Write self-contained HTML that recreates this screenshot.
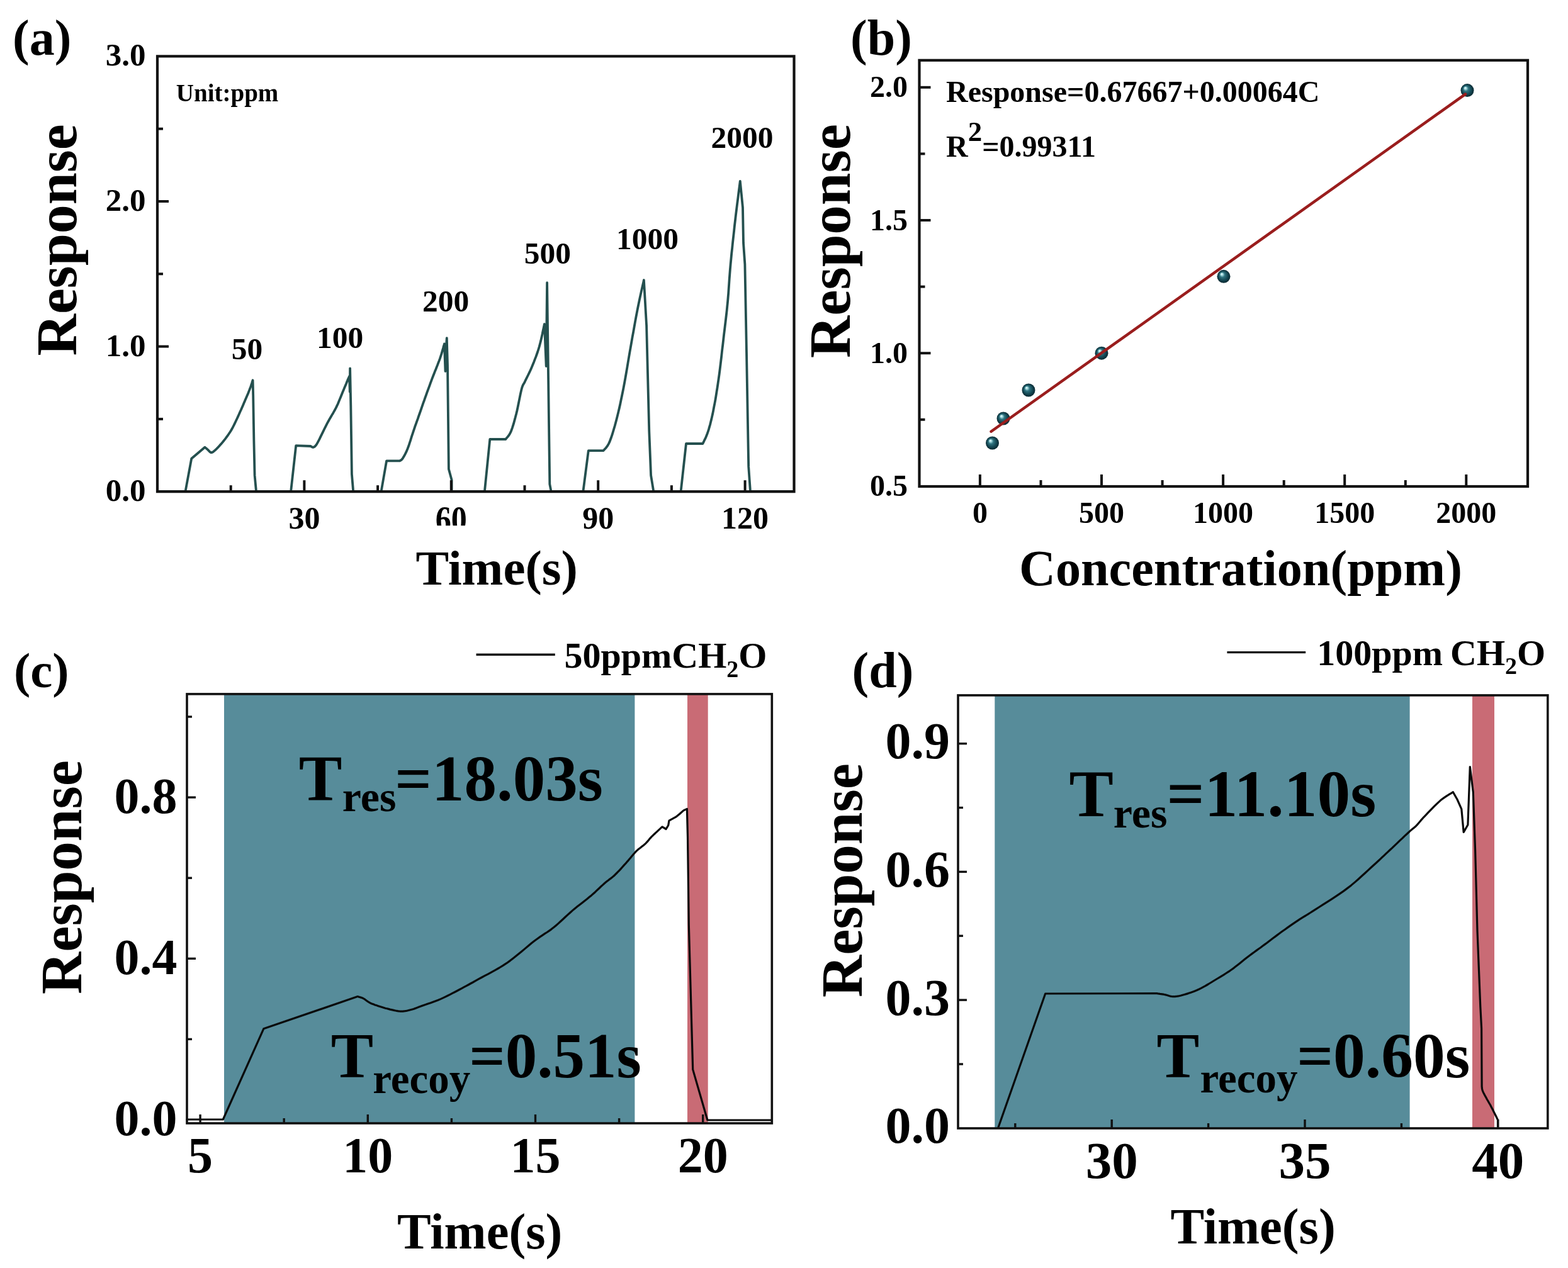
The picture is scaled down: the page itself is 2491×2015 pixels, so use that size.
<!DOCTYPE html><html><head><meta charset="utf-8"><style>html,body{margin:0;padding:0;background:#fff;overflow:hidden}svg{display:block}</style></head><body><svg width="2491" height="2015" viewBox="0 0 2491 2015" style="font-family:'Liberation Serif','Times New Roman',serif;font-weight:bold">
<rect width="2491" height="2015" fill="#fff"/>
<defs><radialGradient id="sph" cx="0.5" cy="0.5" r="0.5" fx="0.33" fy="0.3"><stop offset="0" stop-color="#f2ffff"/><stop offset="0.16" stop-color="#a8dde2"/><stop offset="0.38" stop-color="#2f7480"/><stop offset="0.72" stop-color="#134652"/><stop offset="1" stop-color="#0a2830"/></radialGradient></defs>
<g>
<polyline points="250.0,781.0 294.5,781.0 304.2,728.8 325.4,710.7 325.4,710.7 325.7,711.0 326.2,711.4 326.7,711.8 327.3,712.3 328.0,712.8 328.7,713.4 329.3,714.0 330.0,714.5 330.6,715.1 331.3,715.8 332.0,716.6 332.7,717.3 333.4,718.0 334.1,718.6 334.9,719.0 335.7,719.1 336.5,719.0 337.3,718.8 338.1,718.4 338.9,717.8 339.8,717.1 340.7,716.3 341.8,715.4 342.9,714.3 344.2,713.1 345.6,711.7 347.1,710.1 348.6,708.4 350.2,706.6 351.9,704.8 353.5,702.9 355.0,701.0 356.5,699.1 358.1,697.1 359.6,695.0 361.2,692.9 362.7,690.7 364.2,688.5 365.7,686.3 367.1,684.0 368.4,681.7 369.7,679.4 370.9,677.0 372.1,674.6 373.3,672.2 374.4,669.8 375.6,667.2 376.8,664.7 378.0,662.1 379.2,659.5 380.4,656.8 381.6,654.0 382.9,651.3 384.1,648.5 385.3,645.7 386.5,642.9 387.7,640.0 389.0,637.1 390.3,634.0 391.6,631.0 392.9,628.0 394.1,625.2 395.2,622.4 396.2,619.9 397.1,617.5 398.0,615.1 398.8,612.8 399.5,610.6 400.2,608.6 400.7,606.9 401.2,605.4 401.6,604.2 402.2,628.4 403.4,701.0 404.6,755.4 407.0,780.8 462.1,781.0" fill="none" stroke="#24504f" stroke-width="3.8" stroke-linejoin="round" stroke-linecap="round"/>
<polyline points="462.1,781.0 470.2,708.2 493.6,709.0 493.6,709.0 493.9,709.2 494.4,709.5 494.9,709.9 495.5,710.2 496.2,710.6 496.8,710.8 497.5,710.8 498.2,710.6 498.8,710.3 499.4,710.0 500.0,709.7 500.6,709.1 501.3,708.4 502.2,707.3 503.2,705.7 504.4,703.6 505.9,700.8 507.7,697.4 509.6,693.4 511.7,689.1 513.9,684.7 516.0,680.3 518.1,676.2 520.0,672.4 521.9,669.0 523.7,665.7 525.6,662.5 527.4,659.4 529.2,656.4 530.9,653.4 532.5,650.5 534.0,647.6 535.4,644.7 536.7,642.0 537.8,639.2 538.9,636.6 540.0,633.9 541.1,631.2 542.2,628.6 543.3,625.8 544.5,622.8 545.9,619.6 547.2,616.3 548.6,613.0 549.9,609.9 551.0,607.1 552.0,604.8 552.7,603.0 555.0,598.0 555.8,622.7 556.1,585.3 557.3,644.4 558.9,753.3 561.2,781.0 605.6,781.0" fill="none" stroke="#24504f" stroke-width="3.8" stroke-linejoin="round" stroke-linecap="round"/>
<polyline points="605.6,781.0 614.1,732.3 635.1,732.3 635.1,732.3 635.4,732.1 635.9,731.9 636.4,731.6 637.0,731.3 637.6,730.9 638.3,730.3 639.0,729.5 639.8,728.4 640.6,727.1 641.5,725.6 642.4,724.0 643.4,722.2 644.4,720.1 645.5,717.9 646.5,715.5 647.6,712.9 648.7,710.0 649.8,706.9 650.9,703.5 652.1,699.9 653.2,696.2 654.4,692.4 655.7,688.6 656.9,684.9 658.2,681.1 659.5,677.2 660.9,673.3 662.3,669.3 663.8,665.3 665.1,661.3 666.5,657.5 667.8,653.8 669.0,650.3 670.2,646.9 671.3,643.7 672.4,640.4 673.6,637.3 674.7,634.0 675.9,630.7 677.1,627.3 678.4,623.7 679.7,620.1 681.1,616.4 682.5,612.6 683.8,608.9 685.2,605.1 686.6,601.4 688.0,597.8 689.4,594.2 690.8,590.6 692.3,587.0 693.7,583.4 695.1,579.9 696.4,576.4 697.7,573.1 698.9,569.8 700.0,566.5 701.1,563.1 702.1,559.7 703.1,556.3 704.0,553.3 704.7,550.5 705.4,548.2 705.9,546.4 707.5,590.0 708.2,560.0 709.8,537.1 711.0,580.0 712.9,745.6 717.6,762.7 717.6,781.0 769.9,781.0" fill="none" stroke="#24504f" stroke-width="3.8" stroke-linejoin="round" stroke-linecap="round"/>
<polyline points="769.9,781.0 778.3,698.0 803.4,698.0 803.4,698.0 804.0,697.1 804.9,696.1 805.9,694.9 807.1,693.5 808.3,691.9 809.5,690.0 810.7,687.9 811.8,685.5 812.8,682.8 813.9,679.8 814.9,676.6 816.0,673.2 817.0,669.5 818.1,665.6 819.1,661.6 820.2,657.5 821.3,653.0 822.4,647.9 823.5,642.5 824.6,637.0 825.7,631.6 826.7,626.6 827.7,622.1 828.6,618.4 829.4,615.6 830.1,613.6 830.7,612.2 831.2,611.1 831.8,610.2 832.5,609.1 833.3,607.7 834.2,605.8 835.3,603.4 836.6,600.8 838.0,598.0 839.5,595.0 841.0,591.9 842.5,588.7 844.0,585.4 845.4,582.0 846.8,578.5 848.3,574.9 849.7,571.2 851.2,567.4 852.6,563.5 854.0,559.5 855.3,555.5 856.6,551.3 857.8,546.8 859.1,541.8 860.3,536.5 861.5,531.2 862.5,526.2 863.5,521.7 864.3,517.8 864.9,515.0 867.7,582.0 869.1,449.2 871.1,601.6 873.3,769.3 875.6,781.0 926.4,781.0" fill="none" stroke="#24504f" stroke-width="3.8" stroke-linejoin="round" stroke-linecap="round"/>
<polyline points="926.4,781.0 934.8,716.2 958.6,716.2 958.6,716.2 959.3,715.3 960.3,714.2 961.5,713.0 962.8,711.5 964.2,709.7 965.6,707.6 967.0,705.1 968.4,702.2 969.7,698.8 971.1,695.0 972.5,690.8 973.9,686.3 975.3,681.5 976.8,676.5 978.2,671.3 979.6,665.9 981.0,660.4 982.4,654.6 983.8,648.7 985.2,642.5 986.5,636.1 987.9,629.5 989.3,622.7 990.7,615.6 992.1,608.2 993.5,600.4 994.9,592.4 996.3,584.2 997.7,575.8 999.1,567.5 1000.5,559.3 1001.9,551.3 1003.3,543.4 1004.7,535.3 1006.2,527.3 1007.6,519.3 1009.0,511.5 1010.4,503.9 1011.8,496.7 1013.1,489.8 1014.5,483.1 1015.9,476.4 1017.3,469.8 1018.7,463.6 1020.0,457.8 1021.2,452.7 1022.2,448.3 1022.9,445.0 1027.1,517.7 1031.3,685.5 1034.1,755.4 1038.3,781.0 1081.6,781.0" fill="none" stroke="#24504f" stroke-width="3.8" stroke-linejoin="round" stroke-linecap="round"/>
<polyline points="1081.6,781.0 1090.0,705.0 1116.5,705.0 1116.5,705.0 1117.1,703.6 1118.0,701.8 1119.0,699.7 1120.2,697.4 1121.4,694.7 1122.6,691.8 1123.8,688.7 1124.9,685.5 1126.0,682.1 1127.0,678.5 1128.1,674.7 1129.1,670.6 1130.2,666.3 1131.2,661.8 1132.3,657.0 1133.3,651.9 1134.3,646.5 1135.4,641.0 1136.5,635.1 1137.5,629.0 1138.5,622.6 1139.6,615.9 1140.6,608.9 1141.7,601.6 1142.8,593.7 1143.9,585.1 1145.0,576.0 1146.1,566.7 1147.1,557.4 1148.2,548.4 1149.2,539.7 1150.1,531.7 1151.0,524.4 1151.8,517.7 1152.6,511.3 1153.3,505.2 1154.0,499.2 1154.7,493.1 1155.3,486.7 1156.0,480.0 1156.6,473.0 1157.2,465.8 1157.7,458.5 1158.2,451.1 1158.7,443.6 1159.3,435.9 1159.9,428.0 1160.6,420.0 1161.4,411.7 1162.2,403.0 1163.2,394.1 1164.1,385.1 1165.1,376.1 1166.1,367.2 1167.0,358.4 1168.0,350.0 1169.0,341.4 1170.1,332.4 1171.2,323.4 1172.4,314.5 1173.4,306.2 1174.4,298.8 1175.2,292.5 1175.8,287.8 1180.0,330.0 1181.0,386.0 1183.4,420.0 1186.0,560.0 1189.2,741.4 1192.0,781.0 1261.0,781.0" fill="none" stroke="#24504f" stroke-width="3.8" stroke-linejoin="round" stroke-linecap="round"/>
</g>
<rect x="250" y="89.4" width="1011.5" height="691.8000000000001" fill="none" stroke="#111" stroke-width="4.2"/>
<line x1="250.0" y1="550.6" x2="268.0" y2="550.6" stroke="#111" stroke-width="4"/>
<line x1="250.0" y1="320.0" x2="268.0" y2="320.0" stroke="#111" stroke-width="4"/>
<line x1="250.0" y1="665.9" x2="259.0" y2="665.9" stroke="#111" stroke-width="4"/>
<line x1="250.0" y1="435.3" x2="259.0" y2="435.3" stroke="#111" stroke-width="4"/>
<line x1="250.0" y1="204.7" x2="259.0" y2="204.7" stroke="#111" stroke-width="4"/>
<line x1="483.4" y1="781.2" x2="483.4" y2="763.2" stroke="#111" stroke-width="4"/>
<line x1="716.8" y1="781.2" x2="716.8" y2="763.2" stroke="#111" stroke-width="4"/>
<line x1="950.2" y1="781.2" x2="950.2" y2="763.2" stroke="#111" stroke-width="4"/>
<line x1="1183.6" y1="781.2" x2="1183.6" y2="763.2" stroke="#111" stroke-width="4"/>
<line x1="366.7" y1="781.2" x2="366.7" y2="771.2" stroke="#111" stroke-width="4"/>
<line x1="600.1" y1="781.2" x2="600.1" y2="771.2" stroke="#111" stroke-width="4"/>
<line x1="833.5" y1="781.2" x2="833.5" y2="771.2" stroke="#111" stroke-width="4"/>
<line x1="1066.9" y1="781.2" x2="1066.9" y2="771.2" stroke="#111" stroke-width="4"/>
<text x="231.5" y="796.2" font-size="51" text-anchor="end">0.0</text>
<text x="231.5" y="565.6" font-size="51" text-anchor="end">1.0</text>
<text x="231.5" y="335.0" font-size="51" text-anchor="end">2.0</text>
<text x="231.5" y="104.4" font-size="51" text-anchor="end">3.0</text>
<text x="483.4" y="840.3" font-size="50" text-anchor="middle">30</text>
<text x="950.2" y="840.3" font-size="50" text-anchor="middle">90</text>
<text x="1183.6" y="840.3" font-size="50" text-anchor="middle">120</text>
<clipPath id="c60"><rect x="680" y="790" width="80" height="45.3"/></clipPath>
<g clip-path="url(#c60)"><text transform="translate(716.8,845) scale(1,1.2)" font-size="50" text-anchor="middle">60</text></g>
<text x="392.5" y="571.0" font-size="49.5" text-anchor="middle">50</text>
<text x="540.0" y="553.0" font-size="49.5" text-anchor="middle">100</text>
<text x="708.0" y="494.5" font-size="49.5" text-anchor="middle">200</text>
<text x="869.8" y="418.5" font-size="49.5" text-anchor="middle">500</text>
<text x="1028.5" y="396.0" font-size="49.5" text-anchor="middle">1000</text>
<text x="1179.0" y="235.0" font-size="49.5" text-anchor="middle">2000</text>
<text x="279.8" y="161.2" font-size="39" text-anchor="start">Unit:ppm</text>
<text x="20.0" y="87.0" font-size="80" text-anchor="start">(a)</text>
<text transform="translate(120.6,565.4) rotate(-90)" font-size="92">Response</text>
<text x="660.4" y="928.7" font-size="79" text-anchor="start">Time(s)</text>
<rect x="1460.5" y="95.8" width="966.5" height="677.2" fill="none" stroke="#111" stroke-width="4.2"/>
<line x1="1460.5" y1="561.2" x2="1478.5" y2="561.2" stroke="#111" stroke-width="4"/>
<line x1="1460.5" y1="350.0" x2="1478.5" y2="350.0" stroke="#111" stroke-width="4"/>
<line x1="1460.5" y1="138.8" x2="1478.5" y2="138.8" stroke="#111" stroke-width="4"/>
<line x1="1460.5" y1="666.8" x2="1469.5" y2="666.8" stroke="#111" stroke-width="4"/>
<line x1="1460.5" y1="455.6" x2="1469.5" y2="455.6" stroke="#111" stroke-width="4"/>
<line x1="1460.5" y1="244.4" x2="1469.5" y2="244.4" stroke="#111" stroke-width="4"/>
<line x1="1556.9" y1="773.0" x2="1556.9" y2="754.0" stroke="#111" stroke-width="4"/>
<line x1="1750.0" y1="773.0" x2="1750.0" y2="754.0" stroke="#111" stroke-width="4"/>
<line x1="1943.1" y1="773.0" x2="1943.1" y2="754.0" stroke="#111" stroke-width="4"/>
<line x1="2136.2" y1="773.0" x2="2136.2" y2="754.0" stroke="#111" stroke-width="4"/>
<line x1="2329.3" y1="773.0" x2="2329.3" y2="754.0" stroke="#111" stroke-width="4"/>
<line x1="1653.5" y1="773.0" x2="1653.5" y2="763.0" stroke="#111" stroke-width="4"/>
<line x1="1846.6" y1="773.0" x2="1846.6" y2="763.0" stroke="#111" stroke-width="4"/>
<line x1="2039.7" y1="773.0" x2="2039.7" y2="763.0" stroke="#111" stroke-width="4"/>
<line x1="2232.8" y1="773.0" x2="2232.8" y2="763.0" stroke="#111" stroke-width="4"/>
<text x="1442.0" y="787.9" font-size="48" text-anchor="end">0.5</text>
<text x="1442.0" y="576.7" font-size="48" text-anchor="end">1.0</text>
<text x="1442.0" y="365.5" font-size="48" text-anchor="end">1.5</text>
<text x="1442.0" y="154.3" font-size="48" text-anchor="end">2.0</text>
<text x="1556.9" y="830.7" font-size="48" text-anchor="middle">0</text>
<text x="1750.0" y="830.7" font-size="48" text-anchor="middle">500</text>
<text x="1943.1" y="830.7" font-size="48" text-anchor="middle">1000</text>
<text x="2136.2" y="830.7" font-size="48" text-anchor="middle">1500</text>
<text x="2329.3" y="830.7" font-size="48" text-anchor="middle">2000</text>
<circle cx="1576.5" cy="704" r="10.5" fill="url(#sph)"/>
<circle cx="1594" cy="665" r="10.5" fill="url(#sph)"/>
<circle cx="1634" cy="620" r="10.5" fill="url(#sph)"/>
<circle cx="1750" cy="561.2" r="10.5" fill="url(#sph)"/>
<circle cx="1944" cy="439.3" r="10.5" fill="url(#sph)"/>
<circle cx="2331" cy="143.6" r="10.5" fill="url(#sph)"/>
<line x1="1574.5" y1="685.8" x2="2328" y2="149.6" stroke="#9a1d1d" stroke-width="4.4" stroke-linecap="round"/>
<text x="1503.0" y="161.5" font-size="48" text-anchor="start">Response=0.67667+0.00064C</text>
<text x="1503" y="248.8" font-size="48">R<tspan font-size="45" dy="-24.5">2</tspan><tspan dy="24.5">=0.99311</tspan></text>
<text x="1351.0" y="87.0" font-size="80" text-anchor="start">(b)</text>
<text transform="translate(1350,569) rotate(-90)" font-size="93">Response</text>
<text x="1619.0" y="930.0" font-size="80.2" text-anchor="start">Concentration(ppm)</text>
<rect x="356" y="1102.9" width="652.4" height="682.0999999999999" fill="#578c9a"/>
<rect x="1092" y="1102.9" width="32.700000000000045" height="682.0999999999999" fill="#c96b75"/>
<polyline points="297.0,1779.0 354.3,1779.0 418.8,1634.8 568.2,1583.6 568.2,1583.6 568.9,1583.8 569.8,1584.1 570.9,1584.4 572.1,1584.7 573.4,1585.1 574.7,1585.5 575.9,1586.0 577.0,1586.5 578.0,1587.1 579.1,1587.7 580.1,1588.5 581.1,1589.2 582.1,1590.0 583.1,1590.7 584.1,1591.4 585.0,1592.0 585.8,1592.5 586.6,1593.0 587.2,1593.3 587.9,1593.7 588.6,1594.1 589.5,1594.5 590.6,1595.0 592.0,1595.5 593.7,1596.1 595.7,1596.9 597.9,1597.6 600.3,1598.4 602.7,1599.2 605.2,1600.0 607.7,1600.8 610.0,1601.5 612.3,1602.2 614.8,1602.8 617.2,1603.4 619.7,1604.1 622.1,1604.6 624.4,1605.1 626.5,1605.6 628.5,1606.0 630.2,1606.3 631.8,1606.6 633.2,1606.8 634.5,1607.0 635.7,1607.1 637.0,1607.2 638.4,1607.2 640.0,1607.1 641.7,1606.9 643.5,1606.7 645.4,1606.4 647.3,1606.0 649.2,1605.5 651.2,1605.0 653.1,1604.5 655.0,1604.0 656.8,1603.5 658.4,1602.9 660.0,1602.4 661.6,1601.7 663.3,1601.1 665.2,1600.3 667.4,1599.5 670.0,1598.5 673.0,1597.4 676.4,1596.3 680.1,1595.0 684.0,1593.7 688.0,1592.2 692.1,1590.7 696.1,1589.2 699.9,1587.6 703.7,1585.9 707.4,1584.1 711.2,1582.3 715.0,1580.4 718.7,1578.4 722.5,1576.5 726.3,1574.5 730.0,1572.5 733.6,1570.6 737.1,1568.7 740.5,1566.9 744.0,1565.0 747.5,1563.0 751.3,1561.0 755.4,1558.7 759.8,1556.2 764.7,1553.5 770.0,1550.7 775.5,1547.8 781.3,1544.7 787.2,1541.4 793.1,1538.0 799.0,1534.4 804.7,1530.7 810.4,1526.6 816.3,1522.1 822.2,1517.3 828.1,1512.5 833.9,1507.6 839.4,1503.0 844.7,1498.6 849.6,1494.8 854.1,1491.5 858.1,1488.6 861.9,1486.1 865.5,1483.7 869.0,1481.5 872.5,1479.1 876.0,1476.6 879.6,1473.8 883.3,1470.7 887.1,1467.4 890.8,1464.0 894.6,1460.5 898.3,1457.0 902.0,1453.6 905.8,1450.2 909.5,1446.9 913.3,1443.7 917.2,1440.6 921.2,1437.5 925.1,1434.4 928.9,1431.4 932.7,1428.5 936.2,1425.6 939.5,1422.9 942.5,1420.3 945.4,1417.7 948.0,1415.2 950.6,1412.8 953.0,1410.5 955.3,1408.2 957.7,1406.1 960.0,1404.0 962.3,1402.1 964.5,1400.3 966.6,1398.7 968.6,1397.1 970.7,1395.6 972.8,1393.9 974.8,1392.2 977.0,1390.2 979.2,1388.0 981.5,1385.7 983.8,1383.3 986.1,1380.8 988.4,1378.2 990.7,1375.7 992.9,1373.2 995.1,1370.8 997.2,1368.4 999.2,1366.0 1001.2,1363.7 1003.2,1361.3 1005.1,1359.0 1007.0,1356.8 1008.9,1354.7 1010.8,1352.7 1012.7,1350.9 1014.6,1349.2 1016.6,1347.7 1018.5,1346.2 1020.3,1344.8 1022.1,1343.4 1023.8,1342.0 1025.4,1340.6 1026.8,1339.2 1028.0,1337.9 1029.1,1336.6 1030.1,1335.4 1031.2,1334.1 1032.3,1332.7 1033.6,1331.3 1035.1,1329.7 1037.0,1327.9 1039.2,1325.7 1041.7,1323.4 1044.2,1321.1 1046.6,1318.9 1048.8,1316.9 1050.6,1315.2 1052.0,1313.9 1058.1,1317.5 1061.7,1311.5 1062.9,1304.2 1073.8,1298.2 1079.9,1293.3 1086.0,1287.9 1091.4,1285.4 1092.5,1330.0 1094.3,1469.5 1100.7,1699.6 1123.9,1780.0 1226.0,1780.0" fill="none" stroke="#0a0a0a" stroke-width="3.2" stroke-linejoin="round" stroke-linecap="round"/>
<rect x="297" y="1102.9" width="929.3" height="682.0999999999999" fill="none" stroke="#111" stroke-width="3.6"/>
<line x1="297.0" y1="1523.3" x2="311.0" y2="1523.3" stroke="#111" stroke-width="3.4"/>
<line x1="297.0" y1="1267.1" x2="311.0" y2="1267.1" stroke="#111" stroke-width="3.4"/>
<line x1="297.0" y1="1651.4" x2="305.0" y2="1651.4" stroke="#111" stroke-width="3.4"/>
<line x1="297.0" y1="1395.2" x2="305.0" y2="1395.2" stroke="#111" stroke-width="3.4"/>
<line x1="297.0" y1="1139.0" x2="305.0" y2="1139.0" stroke="#111" stroke-width="3.4"/>
<line x1="318.1" y1="1785.0" x2="318.1" y2="1771.0" stroke="#111" stroke-width="3.4"/>
<line x1="584.3" y1="1785.0" x2="584.3" y2="1771.0" stroke="#111" stroke-width="3.4"/>
<line x1="850.5" y1="1785.0" x2="850.5" y2="1771.0" stroke="#111" stroke-width="3.4"/>
<line x1="1116.7" y1="1785.0" x2="1116.7" y2="1771.0" stroke="#111" stroke-width="3.4"/>
<line x1="451.2" y1="1785.0" x2="451.2" y2="1777.0" stroke="#111" stroke-width="3.4"/>
<line x1="717.4" y1="1785.0" x2="717.4" y2="1777.0" stroke="#111" stroke-width="3.4"/>
<line x1="983.6" y1="1785.0" x2="983.6" y2="1777.0" stroke="#111" stroke-width="3.4"/>
<text x="281.5" y="1804.0" font-size="80" text-anchor="end">0.0</text>
<text x="281.5" y="1547.8" font-size="80" text-anchor="end">0.4</text>
<text x="281.5" y="1291.6" font-size="80" text-anchor="end">0.8</text>
<text x="318.1" y="1863.4" font-size="80" text-anchor="middle">5</text>
<text x="584.3" y="1863.4" font-size="80" text-anchor="middle">10</text>
<text x="850.5" y="1863.4" font-size="80" text-anchor="middle">15</text>
<text x="1116.7" y="1863.4" font-size="80" text-anchor="middle">20</text>
<line x1="756.5" y1="1040.3" x2="881.8" y2="1040.3" stroke="#111" stroke-width="3.4"/>
<text x="896.5" y="1061.4" font-size="58">50ppmCH<tspan font-size="38" dy="14.7">2</tspan><tspan dy="-14.7">O</tspan></text>
<text x="474.8" y="1272" font-size="103">T<tspan x="543.8" font-size="68" dy="16.6">res</tspan><tspan x="627.3" dy="-16.6">=18.03s</tspan></text>
<text x="525.7" y="1711.8" font-size="101">T<tspan x="592.2" font-size="67" dy="25.6">recoy</tspan><tspan x="745.3" dy="-25.6">=0.51s</tspan></text>
<text x="22.0" y="1092.0" font-size="79" text-anchor="start">(c)</text>
<text transform="translate(128.6,1580) rotate(-90)" font-size="93">Response</text>
<text x="631.0" y="1983.5" font-size="80.5" text-anchor="start">Time(s)</text>
<rect x="1580.3" y="1104.9" width="659.3" height="688.0999999999999" fill="#578c9a"/>
<rect x="2339" y="1104.9" width="35" height="688.0999999999999" fill="#c96b75"/>
<polyline points="1585.8,1792.0 1660.7,1579.0 1837.0,1578.6 1837.0,1578.6 1838.0,1578.7 1839.3,1578.9 1840.9,1579.1 1842.7,1579.4 1844.5,1579.6 1846.4,1579.9 1848.3,1580.2 1850.0,1580.5 1851.6,1580.9 1853.2,1581.3 1854.8,1581.8 1856.4,1582.3 1858.0,1582.8 1859.6,1583.2 1861.3,1583.5 1863.1,1583.6 1864.9,1583.6 1866.6,1583.6 1868.3,1583.4 1870.1,1583.2 1872.0,1582.9 1874.0,1582.5 1876.2,1582.0 1878.7,1581.3 1881.5,1580.5 1884.5,1579.6 1887.7,1578.6 1891.1,1577.4 1894.6,1576.2 1898.0,1574.9 1901.5,1573.5 1904.8,1572.0 1908.1,1570.4 1911.3,1568.7 1914.6,1566.9 1917.8,1565.0 1921.1,1563.0 1924.4,1561.0 1927.6,1559.0 1930.9,1557.0 1934.2,1555.0 1937.4,1553.1 1940.7,1551.1 1944.0,1549.1 1947.2,1547.0 1950.5,1544.9 1953.7,1542.8 1957.0,1540.5 1960.3,1538.1 1963.5,1535.6 1966.8,1533.0 1970.0,1530.4 1973.3,1527.8 1976.6,1525.1 1979.8,1522.5 1983.1,1520.0 1986.4,1517.5 1989.6,1515.1 1992.9,1512.8 1996.1,1510.4 1999.4,1508.0 2002.7,1505.7 2005.9,1503.3 2009.2,1500.9 2012.5,1498.5 2015.7,1496.0 2019.0,1493.5 2022.2,1491.0 2025.5,1488.6 2028.8,1486.1 2032.0,1483.7 2035.3,1481.3 2038.5,1479.0 2041.8,1476.7 2045.0,1474.4 2048.2,1472.1 2051.4,1469.9 2054.7,1467.6 2058.0,1465.4 2061.4,1463.1 2064.7,1460.9 2067.9,1458.9 2071.1,1456.9 2074.3,1455.0 2077.8,1452.8 2081.5,1450.5 2085.6,1447.9 2090.3,1444.9 2095.6,1441.5 2101.6,1437.7 2108.0,1433.6 2114.7,1429.3 2121.5,1424.9 2128.2,1420.4 2134.7,1415.9 2140.7,1411.4 2146.5,1406.9 2152.2,1402.1 2157.8,1397.2 2163.2,1392.3 2168.5,1387.5 2173.5,1382.9 2178.2,1378.5 2182.6,1374.5 2186.5,1371.0 2190.0,1367.8 2193.1,1364.9 2195.9,1362.2 2198.7,1359.6 2201.5,1356.9 2204.5,1354.1 2207.8,1351.0 2211.5,1347.6 2215.4,1343.8 2219.6,1339.9 2223.7,1335.9 2227.8,1332.1 2231.6,1328.4 2235.1,1325.2 2238.0,1322.5 2240.3,1320.4 2242.2,1318.8 2243.7,1317.6 2244.9,1316.6 2246.0,1315.7 2247.1,1314.8 2248.3,1313.8 2249.7,1312.4 2251.2,1310.8 2252.7,1309.2 2254.1,1307.5 2255.6,1305.8 2257.1,1303.9 2258.9,1301.9 2260.8,1299.7 2263.1,1297.3 2265.7,1294.6 2268.7,1291.4 2271.9,1288.1 2275.3,1284.6 2278.7,1281.1 2282.1,1277.8 2285.3,1274.8 2288.3,1272.1 2291.2,1269.8 2294.2,1267.6 2297.1,1265.6 2299.9,1263.8 2302.6,1262.2 2304.9,1260.8 2306.9,1259.7 2308.4,1258.7 2315.1,1270.5 2321.8,1285.6 2325.2,1322.5 2331.9,1310.7 2335.3,1218.5 2340.3,1258.7 2343.6,1351.0 2347.0,1480.0 2351.8,1600.0 2353.6,1634.6 2354.1,1726.7 2354.1,1726.7 2354.2,1727.3 2354.3,1728.0 2354.3,1728.9 2354.5,1729.9 2354.7,1731.0 2355.0,1732.4 2355.6,1734.0 2356.4,1735.9 2357.5,1738.1 2358.9,1740.7 2360.5,1743.6 2362.2,1746.7 2364.0,1749.8 2365.8,1753.0 2367.6,1756.0 2369.1,1758.9 2370.6,1761.7 2372.1,1764.7 2373.6,1767.8 2375.1,1770.7 2376.5,1773.5 2377.7,1776.0 2378.7,1778.1 2379.5,1779.7 2379.5,1791.2" fill="none" stroke="#0a0a0a" stroke-width="3.2" stroke-linejoin="round" stroke-linecap="round"/>
<rect x="1522" y="1104.9" width="936.8000000000002" height="688.0999999999999" fill="none" stroke="#111" stroke-width="3.6"/>
<line x1="1522.0" y1="1589.1" x2="1536.0" y2="1589.1" stroke="#111" stroke-width="3.4"/>
<line x1="1522.0" y1="1385.4" x2="1536.0" y2="1385.4" stroke="#111" stroke-width="3.4"/>
<line x1="1522.0" y1="1181.7" x2="1536.0" y2="1181.7" stroke="#111" stroke-width="3.4"/>
<line x1="1522.0" y1="1691.0" x2="1530.0" y2="1691.0" stroke="#111" stroke-width="3.4"/>
<line x1="1522.0" y1="1487.2" x2="1530.0" y2="1487.2" stroke="#111" stroke-width="3.4"/>
<line x1="1522.0" y1="1283.5" x2="1530.0" y2="1283.5" stroke="#111" stroke-width="3.4"/>
<line x1="1766.2" y1="1793.0" x2="1766.2" y2="1779.0" stroke="#111" stroke-width="3.4"/>
<line x1="2073.0" y1="1793.0" x2="2073.0" y2="1779.0" stroke="#111" stroke-width="3.4"/>
<line x1="2379.8" y1="1793.0" x2="2379.8" y2="1779.0" stroke="#111" stroke-width="3.4"/>
<line x1="1612.8" y1="1793.0" x2="1612.8" y2="1785.0" stroke="#111" stroke-width="3.4"/>
<line x1="1919.6" y1="1793.0" x2="1919.6" y2="1785.0" stroke="#111" stroke-width="3.4"/>
<line x1="2226.4" y1="1793.0" x2="2226.4" y2="1785.0" stroke="#111" stroke-width="3.4"/>
<text x="1509.0" y="1816.3" font-size="82" text-anchor="end">0.0</text>
<text x="1509.0" y="1612.6" font-size="82" text-anchor="end">0.3</text>
<text x="1509.0" y="1408.9" font-size="82" text-anchor="end">0.6</text>
<text x="1509.0" y="1205.2" font-size="82" text-anchor="end">0.9</text>
<text x="1766.2" y="1872.4" font-size="83" text-anchor="middle">30</text>
<text x="2073.0" y="1872.4" font-size="83" text-anchor="middle">35</text>
<text x="2379.8" y="1872.4" font-size="83" text-anchor="middle">40</text>
<line x1="1949.4" y1="1036.6" x2="2074.2" y2="1036.6" stroke="#111" stroke-width="3.4"/>
<text x="2092.2" y="1057.2" font-size="58">100ppm<tspan x="2304.1">CH</tspan><tspan font-size="38" dy="14.2">2</tspan><tspan dy="-14.2">O</tspan></text>
<text x="1698.6" y="1296.7" font-size="105.5">T<tspan x="1768.8" font-size="68" dy="17.9">res</tspan><tspan x="1853.5" dy="-17.9">=11.10s</tspan></text>
<text x="1837.5" y="1711.5" font-size="101.6">T<tspan x="1906.4" font-size="67" dy="24.3">recoy</tspan><tspan x="2060.2" dy="-24.3">=0.60s</tspan></text>
<text x="1353.5" y="1092.0" font-size="80" text-anchor="start">(d)</text>
<text transform="translate(1369.1,1585) rotate(-90)" font-size="93">Response</text>
<text x="1859.4" y="1975.5" font-size="80.5" text-anchor="start">Time(s)</text>
</svg></body></html>
